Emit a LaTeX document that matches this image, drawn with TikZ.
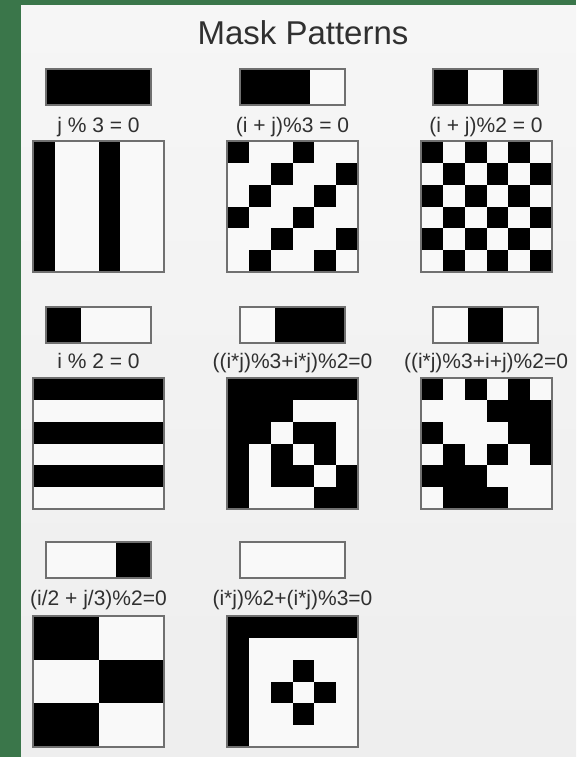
\documentclass[tikz,border=0pt]{standalone}
\usepackage{fontspec}
\setmainfont{Liberation Sans}
\definecolor{greenbg}{RGB}{58,118,74}
\definecolor{paneltop}{RGB}{246,246,246}
\definecolor{panelbot}{RGB}{238,238,238}
\definecolor{framec}{RGB}{112,112,112}
\definecolor{cellw}{RGB}{249,249,249}
\definecolor{txt}{RGB}{48,48,48}
\tikzset{
  frameline/.style={draw=framec, line width=1.6},
  masklabel/.style={anchor=base, text=txt, inner sep=0pt, font=\fontsize{21}{24}\selectfont},
  titletext/.style={text=txt, inner sep=0pt, font=\fontsize{33}{38}\selectfont}
}
\newcommand\maskbar[5]{%
  \fill[#3] (#1,#2) rectangle ++(35,36);
  \fill[#4] (#1+35,#2) rectangle ++(35,36);
  \fill[#5] (#1+70,#2) rectangle ++(35,36);
  \draw[frameline] (#1,#2) rectangle ++(105,36);}
\newcommand\maskgrid[3]{%
  \fill[cellw] (#1,#2) rectangle ++(131,131);
  \foreach \i in {0,...,5}{\foreach \j in {0,...,5}{%
    \pgfmathtruncatemacro\mv{#3}%
    \ifnum\mv=0 \fill[black] (#1+\j*21.833,#2+\i*21.833) rectangle ++(21.833,21.833);\fi}}
  \draw[frameline] (#1,#2) rectangle ++(131,131);}
\begin{document}
\begin{tikzpicture}[x=1pt,y=-1pt]
\useasboundingbox (0,0) rectangle (576,757);
\fill[greenbg] (0,0) rectangle (576,757);
\shade[top color=paneltop, bottom color=panelbot] (21,6) rectangle (576,757);
\node[titletext] (title) at (303,33) {Mask Patterns};
% row 1
\maskbar{46}{69}{black}{black}{black}
\maskbar{240}{69}{black}{black}{cellw}
\maskbar{433}{69}{black}{cellw}{black}
\node[masklabel] (l1) at (98.5,132) {j \% 3 = 0};
\node[masklabel] (l2) at (292.5,132) {(i + j)\%3 = 0};
\node[masklabel] (l3) at (486,132) {(i + j)\%2 = 0};
\maskgrid{33}{141}{mod(\j,3)}
\maskgrid{227}{141}{mod(\i+\j,3)}
\maskgrid{421}{141}{mod(\i+\j,2)}
% row 2
\maskbar{46}{307}{black}{cellw}{cellw}
\maskbar{240}{307}{cellw}{black}{black}
\maskbar{433}{307}{cellw}{black}{cellw}
\node[masklabel] (l4) at (98.5,368) {i \% 2 = 0};
\node[masklabel] (l5) at (292.5,368) {((i*j)\%3+i*j)\%2=0};
\node[masklabel] (l6) at (486,368) {((i*j)\%3+i+j)\%2=0};
\maskgrid{33}{378}{mod(\i,2)}
\maskgrid{227}{378}{mod(mod(\i*\j,3)+\i*\j,2)}
\maskgrid{421}{378}{mod(mod(\i*\j,3)+\i+\j,2)}
% row 3
\maskbar{46}{542}{cellw}{cellw}{black}
\maskbar{240}{542}{cellw}{cellw}{cellw}
\node[masklabel] (l7) at (98.5,605) {(i/2 + j/3)\%2=0};
\node[masklabel] (l8) at (292.5,605) {(i*j)\%2+(i*j)\%3=0};
\maskgrid{33}{616}{mod(floor(\i/2)+floor(\j/3),2)}
\maskgrid{227}{616}{mod(\i*\j,2)+mod(\i*\j,3)}
\end{tikzpicture}
\end{document}
